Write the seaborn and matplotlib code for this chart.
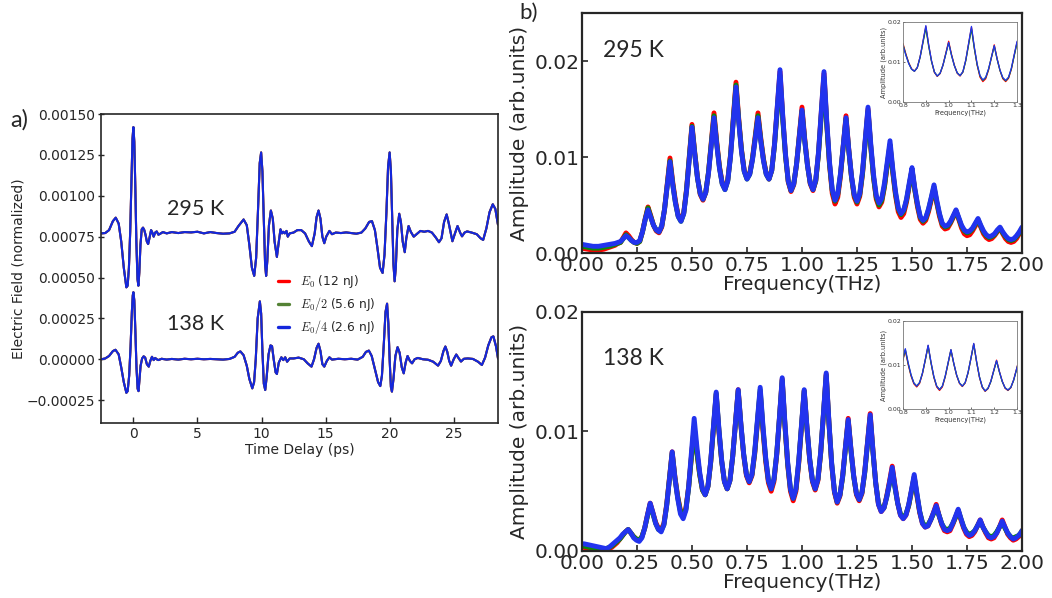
import numpy as np
import matplotlib
matplotlib.use("Agg")
import matplotlib.pyplot as plt
from matplotlib.lines import Line2D
from matplotlib.ticker import FuncFormatter
import seaborn as sns

# ---------------- time-domain traces (ps, normalized field) ----------------
t_295 = [-2.5, -2.2, -1.9, -1.6, -1.38, -1.15, -0.95, -0.75, -0.55, -0.45, -0.35, -0.25, -0.15, -0.07,
         0.0, 0.07, 0.15, 0.23, 0.32, 0.39, 0.46, 0.55, 0.65, 0.75, 0.85, 0.95, 1.05, 1.15, 1.25, 1.38,
         1.48, 1.58, 1.7, 1.82, 1.95, 2.1, 2.3, 2.6, 3.0, 3.5, 4.0, 4.5, 5.0, 5.5, 6.0, 6.5, 7.0, 7.5,
         7.9, 8.2, 8.6, 8.85, 9.05, 9.25, 9.43, 9.58, 9.72, 9.86, 9.97, 10.07, 10.18, 10.28, 10.36,
         10.45, 10.58, 10.73, 10.88, 11.02, 11.2, 11.35, 11.48, 11.6, 11.7, 11.82, 11.95, 12.05, 12.2,
         12.5, 12.8, 13.1, 13.4, 13.7, 13.93, 14.15, 14.3, 14.45, 14.6, 14.75, 14.9, 15.05, 15.3, 15.5,
         15.8, 16.2, 16.6, 17.0, 17.4, 17.8, 18.1, 18.4, 18.62, 18.85, 19.05, 19.25, 19.45, 19.6, 19.75,
         19.88, 20.0, 20.1, 20.2, 20.3, 20.39, 20.48, 20.6, 20.75, 20.88, 21.02, 21.18, 21.3, 21.48,
         21.65, 21.88, 22.1, 22.4, 22.7, 23.0, 23.3, 23.6, 23.85, 24.05, 24.25, 24.45, 24.62, 24.9,
         25.1, 25.3, 25.5, 25.65, 25.85, 26.05, 26.4, 26.8, 27.1, 27.3, 27.55, 27.8, 28.05, 28.25, 28.45]
e_295 = [0.000770, 0.000772, 0.000790, 0.000845, 0.000866, 0.000830, 0.000720, 0.000560, 0.000440,
         0.000450, 0.000560, 0.000780, 0.001100, 0.001350, 0.001420, 0.001330, 0.001050, 0.000720,
         0.000490, 0.000450, 0.000530, 0.000700, 0.000795, 0.000805, 0.000790, 0.000760, 0.000720,
         0.000705, 0.000740, 0.000790, 0.000775, 0.000750, 0.000775, 0.000782, 0.000762, 0.000768,
         0.000778, 0.000770, 0.000778, 0.000772, 0.000778, 0.000776, 0.000780, 0.000770, 0.000778,
         0.000772, 0.000768, 0.000770, 0.000780, 0.000815, 0.000855, 0.000820, 0.000700, 0.000560,
         0.000510, 0.000620, 0.000900, 0.001200, 0.001265, 0.001150, 0.000850, 0.000580, 0.000510,
         0.000600, 0.000820, 0.000910, 0.000860, 0.000720, 0.000626, 0.000720, 0.000795, 0.000770,
         0.000780, 0.000770, 0.000785, 0.000750, 0.000770, 0.000775, 0.000790, 0.000790, 0.000770,
         0.000720, 0.000692, 0.000770, 0.000870, 0.000910, 0.000860, 0.000750, 0.000710, 0.000750,
         0.000785, 0.000765, 0.000775, 0.000772, 0.000776, 0.000772, 0.000768, 0.000775, 0.000800,
         0.000840, 0.000845, 0.000790, 0.000680, 0.000560, 0.000528, 0.000640, 0.000900, 0.001180,
         0.001265, 0.001150, 0.000860, 0.000580, 0.000477, 0.000560, 0.000790, 0.000890, 0.000840,
         0.000720, 0.000655, 0.000740, 0.000815, 0.000780, 0.000750, 0.000765, 0.000785, 0.000780,
         0.000785, 0.000775, 0.000745, 0.000716, 0.000740, 0.000840, 0.000886, 0.000830, 0.000722,
         0.000770, 0.000815, 0.000775, 0.000752, 0.000775, 0.000782, 0.000775, 0.000765, 0.000740,
         0.000730, 0.000800, 0.000900, 0.000948, 0.000920, 0.000825]

t_138 = [-2.5, -2.2, -1.9, -1.6, -1.4, -1.15, -0.95, -0.75, -0.55, -0.45, -0.33, -0.22, -0.12, -0.05,
         0.0, 0.07, 0.15, 0.24, 0.33, 0.4, 0.47, 0.56, 0.68, 0.8, 0.92, 1.05, 1.2, 1.32, 1.45, 1.58,
         1.7, 1.82, 1.95, 2.2, 2.6, 3.0, 3.5, 4.0, 4.5, 5.0, 5.5, 6.0, 6.5, 7.0, 7.5, 7.9, 8.15, 8.35,
         8.6, 8.85, 9.05, 9.28, 9.42, 9.55, 9.7, 9.87, 9.97, 10.07, 10.18, 10.29, 10.4, 10.55, 10.7,
         10.82, 10.95, 11.1, 11.2, 11.35, 11.55, 11.7, 11.85, 12.0, 12.2, 12.5, 12.9, 13.3, 13.6, 13.9,
         14.1, 14.3, 14.45, 14.6, 14.75, 14.9, 15.1, 15.3, 15.5, 16.0, 16.5, 17.0, 17.5, 17.9, 18.15,
         18.38, 18.6, 18.85, 19.1, 19.27, 19.4, 19.55, 19.68, 19.8, 19.9, 20.0, 20.1, 20.18, 20.3,
         20.45, 20.62, 20.78, 20.95, 21.1, 21.25, 21.4, 21.58, 21.75, 21.95, 22.2, 22.6, 23.0, 23.4,
         23.78, 24.0, 24.2, 24.35, 24.5, 24.65, 24.8, 25.0, 25.2, 25.4, 25.57, 25.8, 26.1, 26.5, 26.9,
         27.2, 27.45, 27.7, 27.95, 28.1, 28.3, 28.46]
e_138 = [0.000000, 0.000005, 0.000020, 0.000050, 0.000058, 0.000030, -0.000050, -0.000140, -0.000205,
         -0.000195, -0.000100, 0.000080, 0.000290, 0.000390, 0.000410, 0.000360, 0.000180, -0.000050,
         -0.000180, -0.000195, -0.000130, -0.000040, 0.000005, 0.000018, 0.000010, -0.000030, -0.000045,
         -0.000010, 0.000015, -0.000005, 0.000008, 0.000000, -0.000005, 0.000003, -0.000002, 0.000002,
         -0.000002, 0.000003, 0.000000, 0.000003, 0.000000, 0.000002, 0.000000, -0.000002, 0.000002,
         0.000015, 0.000040, 0.000048, 0.000025, -0.000040, -0.000120, -0.000178, -0.000140, 0.000000,
         0.000250, 0.000354, 0.000280, 0.000050, -0.000150, -0.000188, -0.000110, 0.000030, 0.000085,
         0.000080, 0.000000, -0.000080, -0.000090, -0.000020, 0.000012, -0.000005, 0.000012, -0.000015,
         0.000005, 0.000005, 0.000010, 0.000000, -0.000025, -0.000045, 0.000000, 0.000070, 0.000095,
         0.000050, -0.000030, -0.000045, -0.000010, 0.000012, -0.000002, 0.000003, 0.000000, 0.000003,
         -0.000002, 0.000015, 0.000045, 0.000053, 0.000020, -0.000060, -0.000140, -0.000164, -0.000100,
         0.000100, 0.000290, 0.000340, 0.000220, 0.000000, -0.000170, -0.000198, -0.000120, 0.000020,
         0.000074, 0.000040, -0.000050, -0.000086, -0.000020, 0.000020, -0.000010, -0.000025, 0.000000,
         0.000008, 0.000000, -0.000003, -0.000015, -0.000039, -0.000010, 0.000050, 0.000078, 0.000045,
         -0.000010, -0.000039, 0.000000, 0.000029, 0.000005, -0.000014, 0.000003, 0.000005, 0.000002,
         -0.000015, -0.000035, 0.000010, 0.000085, 0.000135, 0.000140, 0.000080, 0.000005]

# ---------------- spectra (THz, arb. units), 0.0125 THz steps ----------------
f_295 = np.linspace(0.0, 2.0, 161)
amp_295_e0 = [
    0.0005, 0.00045, 0.0004, 0.00035, 0.0003, 0.0003, 0.0003, 0.00035, 0.0004, 0.0005, 0.0006, 0.0007,
    0.0008, 0.0010, 0.0011, 0.0016, 0.0021,
    0.0018, 0.0014, 0.0011, 0.0010, 0.0012, 0.0022, 0.0036, 0.0048,
    0.0039, 0.0029, 0.0023, 0.0021, 0.0027, 0.0045, 0.0072, 0.0099,
    0.0074, 0.0054, 0.0039, 0.0034, 0.0042, 0.0066, 0.0100, 0.0134,
    0.0105, 0.0079, 0.0061, 0.0055, 0.0063, 0.0084, 0.0115, 0.0146,
    0.0116, 0.0090, 0.0073, 0.0067, 0.0076, 0.0102, 0.0140, 0.0178,
    0.0140, 0.0108, 0.0086, 0.0078, 0.0083, 0.0099, 0.0122, 0.0146,
    0.0120, 0.0098, 0.0083, 0.0077, 0.0086, 0.0113, 0.0151, 0.0189,
    0.0142, 0.0102, 0.0074, 0.0064, 0.0071, 0.0092, 0.0122, 0.0152,
    0.0119, 0.0092, 0.0072, 0.0065, 0.0075, 0.0104, 0.0146, 0.0187,
    0.0135, 0.0092, 0.0062, 0.0051, 0.0058, 0.0080, 0.0112, 0.0143,
    0.0108, 0.0079, 0.0058, 0.0051, 0.0059, 0.0082, 0.0117, 0.0150,
    0.0111, 0.0079, 0.0056, 0.0048, 0.0053, 0.0069, 0.0091, 0.0112,
    0.0084, 0.0060, 0.0043, 0.0037, 0.0041, 0.0053, 0.0070, 0.0087,
    0.0066, 0.0048, 0.0035, 0.0031, 0.0034, 0.0043, 0.0055, 0.0068,
    0.0052, 0.0038, 0.0028, 0.0025, 0.0026, 0.0031, 0.0037, 0.0044,
    0.0035, 0.0026, 0.0020, 0.0018, 0.0019, 0.0023, 0.0028, 0.0034,
    0.0027, 0.0020, 0.0016, 0.0014, 0.0015, 0.0018, 0.0022, 0.0026,
    0.0020, 0.0015, 0.0012, 0.0011, 0.0012, 0.0015, 0.0020, 0.0025]
amp_295_e2 = [
    0.0007, 0.00065, 0.0006, 0.00055, 0.0005, 0.0005, 0.0005, 0.00055, 0.0006, 0.00065, 0.0007, 0.0008,
    0.0009, 0.0010, 0.0011, 0.0015, 0.0019,
    0.0016, 0.0013, 0.0011, 0.0010, 0.0012, 0.0022, 0.0035, 0.0047,
    0.0038, 0.0029, 0.0024, 0.0022, 0.0028, 0.0045, 0.0070, 0.0096,
    0.0072, 0.0052, 0.0038, 0.0033, 0.0041, 0.0065, 0.0099, 0.0132,
    0.0104, 0.0078, 0.0062, 0.0056, 0.0063, 0.0084, 0.0113, 0.0143,
    0.0114, 0.0089, 0.0072, 0.0066, 0.0075, 0.0101, 0.0138, 0.0175,
    0.0138, 0.0107, 0.0085, 0.0077, 0.0082, 0.0098, 0.0120, 0.0143,
    0.0118, 0.0097, 0.0082, 0.0077, 0.0086, 0.0112, 0.0149, 0.0185,
    0.0139, 0.0101, 0.0075, 0.0065, 0.0072, 0.0092, 0.0120, 0.0148,
    0.0117, 0.0091, 0.0073, 0.0066, 0.0075, 0.0103, 0.0143, 0.0183,
    0.0134, 0.0093, 0.0065, 0.0054, 0.0061, 0.0082, 0.0111, 0.0140,
    0.0107, 0.0079, 0.0060, 0.0053, 0.0061, 0.0083, 0.0116, 0.0148,
    0.0111, 0.0079, 0.0058, 0.0050, 0.0055, 0.0070, 0.0092, 0.0113,
    0.0085, 0.0062, 0.0046, 0.0040, 0.0044, 0.0055, 0.0071, 0.0087,
    0.0066, 0.0050, 0.0037, 0.0033, 0.0036, 0.0045, 0.0057, 0.0069,
    0.0053, 0.0040, 0.0030, 0.0027, 0.0028, 0.0032, 0.0038, 0.0044,
    0.0036, 0.0028, 0.0023, 0.0021, 0.0022, 0.0025, 0.0030, 0.0035,
    0.0028, 0.0022, 0.0018, 0.0016, 0.0017, 0.0019, 0.0023, 0.0026,
    0.0021, 0.0017, 0.0014, 0.0013, 0.0014, 0.0017, 0.0021, 0.0026]
amp_295_e4 = [
    0.0009, 0.00085, 0.0008, 0.00075, 0.0007, 0.0007, 0.0007, 0.00075, 0.0008, 0.00085, 0.0009, 0.00095,
    0.0010, 0.0011, 0.0012, 0.0015, 0.0018,
    0.0016, 0.0013, 0.0011, 0.0011, 0.0013, 0.0022, 0.0035, 0.0045,
    0.0037, 0.0029, 0.0024, 0.0022, 0.0028, 0.0045, 0.0070, 0.0095,
    0.0071, 0.0052, 0.0038, 0.0033, 0.0041, 0.0064, 0.0098, 0.0131,
    0.0103, 0.0078, 0.0062, 0.0056, 0.0063, 0.0083, 0.0112, 0.0141,
    0.0113, 0.0088, 0.0072, 0.0066, 0.0075, 0.0100, 0.0137, 0.0173,
    0.0137, 0.0106, 0.0085, 0.0077, 0.0082, 0.0097, 0.0119, 0.0141,
    0.0117, 0.0096, 0.0082, 0.0077, 0.0086, 0.0113, 0.0152, 0.0191,
    0.0143, 0.0103, 0.0075, 0.0065, 0.0072, 0.0092, 0.0120, 0.0149,
    0.0117, 0.0091, 0.0073, 0.0066, 0.0076, 0.0105, 0.0147, 0.0189,
    0.0138, 0.0095, 0.0066, 0.0055, 0.0062, 0.0083, 0.0112, 0.0141,
    0.0108, 0.0080, 0.0061, 0.0054, 0.0062, 0.0085, 0.0119, 0.0152,
    0.0114, 0.0082, 0.0060, 0.0052, 0.0057, 0.0073, 0.0095, 0.0117,
    0.0088, 0.0064, 0.0047, 0.0041, 0.0045, 0.0056, 0.0073, 0.0089,
    0.0068, 0.0051, 0.0038, 0.0034, 0.0037, 0.0046, 0.0058, 0.0071,
    0.0055, 0.0041, 0.0031, 0.0028, 0.0029, 0.0033, 0.0039, 0.0045,
    0.0037, 0.0029, 0.0024, 0.0022, 0.0023, 0.0026, 0.0031, 0.0036,
    0.0029, 0.0023, 0.0019, 0.0017, 0.0018, 0.0020, 0.0024, 0.0027,
    0.0022, 0.0018, 0.0015, 0.0014, 0.0015, 0.0018, 0.0022, 0.0027]

# 138 K spectrum sampled on a grid whose peaks fall at 0.x1 THz
f_138 = np.concatenate([[0.0], 0.01 + 0.0125 * np.arange(160), [2.0]])
amp_138_e0 = [
    0.0003, 0.0003, 0.00025, 0.0002, 0.0002, 0.00015, 0.0001, 0.0001, 0.0001, 0.0001, 0.0002, 0.0003,
    0.0005, 0.0007, 0.0010, 0.0013, 0.0016, 0.0018,
    0.0015, 0.0012, 0.0010, 0.0009, 0.0012, 0.0019, 0.0030, 0.0040,
    0.0032, 0.0024, 0.0019, 0.0018, 0.0023, 0.0039, 0.0061, 0.0083,
    0.0062, 0.0046, 0.0034, 0.0030, 0.0036, 0.0054, 0.0079, 0.0104,
    0.0082, 0.0064, 0.0051, 0.0047, 0.0054, 0.0074, 0.0102, 0.0131,
    0.0100, 0.0075, 0.0058, 0.0052, 0.0059, 0.0079, 0.0107, 0.0135,
    0.0105, 0.0080, 0.0063, 0.0057, 0.0063, 0.0081, 0.0107, 0.0133,
    0.0101, 0.0075, 0.0057, 0.0050, 0.0058, 0.0080, 0.0111, 0.0144,
    0.0105, 0.0072, 0.0050, 0.0042, 0.0050, 0.0073, 0.0104, 0.0134,
    0.0103, 0.0076, 0.0058, 0.0051, 0.0059, 0.0082, 0.0114, 0.0148,
    0.0107, 0.0072, 0.0049, 0.0040, 0.0046, 0.0063, 0.0087, 0.0111,
    0.0085, 0.0063, 0.0047, 0.0042, 0.0048, 0.0066, 0.0091, 0.0115,
    0.0084, 0.0057, 0.0039, 0.0033, 0.0036, 0.0046, 0.0058, 0.0071,
    0.0055, 0.0040, 0.0030, 0.0027, 0.0030, 0.0038, 0.0050, 0.0062,
    0.0046, 0.0032, 0.0023, 0.0020, 0.0021, 0.0026, 0.0032, 0.0039,
    0.0030, 0.0022, 0.0017, 0.0016, 0.0017, 0.0022, 0.0028, 0.0034,
    0.0026, 0.0019, 0.0014, 0.0012, 0.0013, 0.0016, 0.0021, 0.0026,
    0.0020, 0.0015, 0.0011, 0.0010, 0.0011, 0.0015, 0.0020, 0.0026,
    0.0020, 0.0014, 0.0011, 0.0009, 0.0010, 0.0012, 0.0015, 0.0017]
amp_138_e2 = [
    0.0004, 0.0004, 0.00035, 0.0003, 0.0003, 0.00025, 0.0002, 0.0002, 0.0002, 0.0002, 0.0003, 0.0004,
    0.0006, 0.0008, 0.0010, 0.0013, 0.0016, 0.0018,
    0.0015, 0.0012, 0.0010, 0.0009, 0.0012, 0.0019, 0.0029, 0.0039,
    0.0031, 0.0023, 0.0018, 0.0017, 0.0022, 0.0038, 0.0060, 0.0082,
    0.0061, 0.0045, 0.0033, 0.0029, 0.0035, 0.0053, 0.0079, 0.0104,
    0.0082, 0.0064, 0.0051, 0.0047, 0.0054, 0.0074, 0.0103, 0.0132,
    0.0101, 0.0075, 0.0058, 0.0052, 0.0059, 0.0079, 0.0106, 0.0134,
    0.0105, 0.0081, 0.0064, 0.0058, 0.0064, 0.0082, 0.0108, 0.0135,
    0.0103, 0.0077, 0.0059, 0.0052, 0.0060, 0.0081, 0.0111, 0.0143,
    0.0105, 0.0073, 0.0052, 0.0044, 0.0052, 0.0074, 0.0104, 0.0134,
    0.0103, 0.0077, 0.0059, 0.0052, 0.0060, 0.0082, 0.0114, 0.0147,
    0.0107, 0.0073, 0.0050, 0.0041, 0.0047, 0.0062, 0.0086, 0.0109,
    0.0084, 0.0062, 0.0048, 0.0043, 0.0049, 0.0065, 0.0089, 0.0112,
    0.0083, 0.0057, 0.0040, 0.0034, 0.0036, 0.0045, 0.0056, 0.0068,
    0.0053, 0.0040, 0.0031, 0.0028, 0.0031, 0.0038, 0.0050, 0.0062,
    0.0047, 0.0033, 0.0024, 0.0021, 0.0022, 0.0026, 0.0031, 0.0037,
    0.0030, 0.0023, 0.0019, 0.0018, 0.0019, 0.0023, 0.0028, 0.0034,
    0.0027, 0.0020, 0.0016, 0.0014, 0.0015, 0.0017, 0.0021, 0.0025,
    0.0020, 0.0016, 0.0013, 0.0012, 0.0013, 0.0016, 0.0020, 0.0024,
    0.0019, 0.0015, 0.0012, 0.0011, 0.0012, 0.0013, 0.0016, 0.0017]
amp_138_e4 = [
    0.0006, 0.0006, 0.00055, 0.0005, 0.00045, 0.0004, 0.00035, 0.0003, 0.00025, 0.0002, 0.0003, 0.0005,
    0.0007, 0.0009, 0.0011, 0.0014, 0.0016, 0.0018,
    0.0015, 0.0011, 0.0009, 0.0008, 0.0011, 0.0019, 0.0030, 0.0040,
    0.0032, 0.0023, 0.0018, 0.0016, 0.0022, 0.0038, 0.0060, 0.0083,
    0.0061, 0.0044, 0.0031, 0.0027, 0.0034, 0.0054, 0.0082, 0.0111,
    0.0087, 0.0066, 0.0052, 0.0047, 0.0054, 0.0075, 0.0104, 0.0133,
    0.0102, 0.0076, 0.0058, 0.0052, 0.0059, 0.0079, 0.0107, 0.0135,
    0.0106, 0.0081, 0.0064, 0.0058, 0.0064, 0.0083, 0.0110, 0.0137,
    0.0105, 0.0078, 0.0059, 0.0052, 0.0060, 0.0081, 0.0112, 0.0145,
    0.0107, 0.0074, 0.0052, 0.0044, 0.0052, 0.0075, 0.0105, 0.0135,
    0.0104, 0.0077, 0.0059, 0.0052, 0.0060, 0.0083, 0.0115, 0.0149,
    0.0108, 0.0073, 0.0050, 0.0041, 0.0047, 0.0063, 0.0087, 0.0110,
    0.0085, 0.0063, 0.0048, 0.0043, 0.0049, 0.0066, 0.0090, 0.0114,
    0.0084, 0.0057, 0.0039, 0.0033, 0.0036, 0.0045, 0.0057, 0.0070,
    0.0054, 0.0040, 0.0030, 0.0027, 0.0030, 0.0039, 0.0051, 0.0064,
    0.0048, 0.0033, 0.0023, 0.0020, 0.0021, 0.0026, 0.0032, 0.0038,
    0.0030, 0.0023, 0.0018, 0.0017, 0.0018, 0.0023, 0.0029, 0.0035,
    0.0027, 0.0020, 0.0015, 0.0013, 0.0014, 0.0017, 0.0021, 0.0026,
    0.0020, 0.0016, 0.0012, 0.0011, 0.0012, 0.0015, 0.0020, 0.0025,
    0.0020, 0.0015, 0.0012, 0.0010, 0.0011, 0.0013, 0.0016, 0.0017]

energy_labels = [r"$E_0$ (12 nJ)", r"$E_0/2$ (5.6 nJ)", r"$E_0/4$ (2.6 nJ)"]
trace_colors = ["#ff0000", "#548235", "#1426dc"]
spec_colors = ["#ff0000", "#0a8a0a", "#2233ee"]

sns.set_style("ticks")
plt.rcParams["font.family"] = ["DejaVu Sans"]
plt.rcParams["mathtext.fontset"] = "cm"
label_font = "Lato"

fig = plt.figure(figsize=(10.52, 5.98), dpi=100)

# ---------------- a) time domain ----------------
ax_a = fig.add_axes([0.0960, 0.2926, 0.3774, 0.5167])
for col in trace_colors:
    sns.lineplot(x=t_295, y=e_295, ax=ax_a, color=col, lw=1.5, estimator=None, legend=False)
    sns.lineplot(x=t_138, y=e_138, ax=ax_a, color=col, lw=1.5, estimator=None, legend=False)
ax_a.set_xlim(-2.53, 28.46)
ax_a.set_ylim(-0.00039, 0.00150)
ax_a.set_xticks([0, 5, 10, 15, 20, 25])
ax_a.set_yticks(np.arange(-0.00025, 0.0015001, 0.00025))
ax_a.yaxis.set_major_formatter(FuncFormatter(lambda v, p: f"{v:.5f}".replace("-", "\u2212")))
ax_a.tick_params(axis="y", direction="inout", length=5, width=1, labelsize=10, pad=2)
ax_a.tick_params(axis="x", direction="in", length=4, width=1, labelsize=10, pad=3)
ax_a.set_xlabel("Time Delay (ps)", fontsize=10, labelpad=1)
ax_a.set_ylabel("Electric Field (normalized)", fontsize=10, labelpad=0.5)
for s in ax_a.spines.values():
    s.set_linewidth(1.2)
ax_a.text(0.166, 0.673, "295 K", transform=ax_a.transAxes, fontsize=15.5, family=label_font)
ax_a.text(0.166, 0.300, "138 K", transform=ax_a.transAxes, fontsize=15.5, family=label_font)
handles = [Line2D([], [], color=c, lw=2.4) for c in trace_colors]
ax_a.legend(handles, energy_labels, loc="upper left", bbox_to_anchor=(0.433, 0.502), frameon=False,
            fontsize=8.8, handlelength=0.9, handletextpad=0.9, labelspacing=0.42, borderaxespad=0)
fig.text(0.010, 0.800, "a)", fontsize=17, family=label_font, va="center")

# ---------------- b) spectra ----------------
def spectrum_panel(rect, freq, series, ymax, temp, ty, inset_rect):
    ax = fig.add_axes(rect)
    for amp, col in zip(series, spec_colors):
        sns.lineplot(x=freq, y=amp, ax=ax, color=col, lw=3.5, estimator=None, legend=False)
    ax.set_xlim(0, 2)
    ax.set_ylim(0, ymax)
    ax.set_xticks(np.arange(0, 2.001, 0.25))
    ax.set_yticks([0.0, 0.01, 0.02])
    ax.xaxis.set_major_formatter(FuncFormatter(lambda v, p: f"{v:.2f}"))
    ax.yaxis.set_major_formatter(FuncFormatter(lambda v, p: f"{v:.2f}"))
    ax.tick_params(direction="in", length=4, width=1.2, labelsize=14.5, pad=2)
    ax.set_xlabel("Frequency(THz)", fontsize=14.5, labelpad=0)
    ax.set_ylabel("Amplitude (arb.units)", fontsize=14.5, labelpad=4)
    for s in ax.spines.values():
        s.set_linewidth(1.6)
    ax.text(0.048, ty, temp, transform=ax.transAxes, fontsize=16.5, family=label_font)

    ins = fig.add_axes(inset_rect)
    for amp, col in zip(series, spec_colors):
        sns.lineplot(x=freq, y=amp, ax=ins, color=col, lw=0.9, estimator=None, legend=False)
    ins.set_xlim(0.8, 1.3)
    ins.set_ylim(0, 0.02)
    ins.set_xticks([0.8, 0.9, 1.0, 1.1, 1.2, 1.3])
    ins.set_yticks([0.0, 0.01, 0.02])
    ins.xaxis.set_major_formatter(FuncFormatter(lambda v, p: f"{v:.1f}"))
    ins.yaxis.set_major_formatter(FuncFormatter(lambda v, p: f"{v:.2f}"))
    ins.tick_params(direction="in", length=1.5, width=0.5, labelsize=4.5, pad=1, colors="#333333")
    ins.set_xlabel("Frequency(THz)", fontsize=4.8, labelpad=0.5, color="#333333")
    ins.set_ylabel("Amplitude (arb.units)", fontsize=4.8, labelpad=1, color="#333333")
    for s in ins.spines.values():
        s.set_linewidth(0.6)
        s.set_color("#777777")
    return ax

spectrum_panel([0.5532, 0.5769, 0.4183, 0.4013], f_295, [amp_295_e0, amp_295_e2, amp_295_e4],
               0.025, "295 K", 0.817, [0.8584, 0.8294, 0.1084, 0.1338])
spectrum_panel([0.5532, 0.0786, 0.4183, 0.3997], f_138, [amp_138_e0, amp_138_e2, amp_138_e4],
               0.02, "138 K", 0.780, [0.8584, 0.3161, 0.1084, 0.1472])
fig.text(0.494, 0.978, "b)", fontsize=16, family=label_font, va="center")

fig.savefig("out.png", dpi=100)
